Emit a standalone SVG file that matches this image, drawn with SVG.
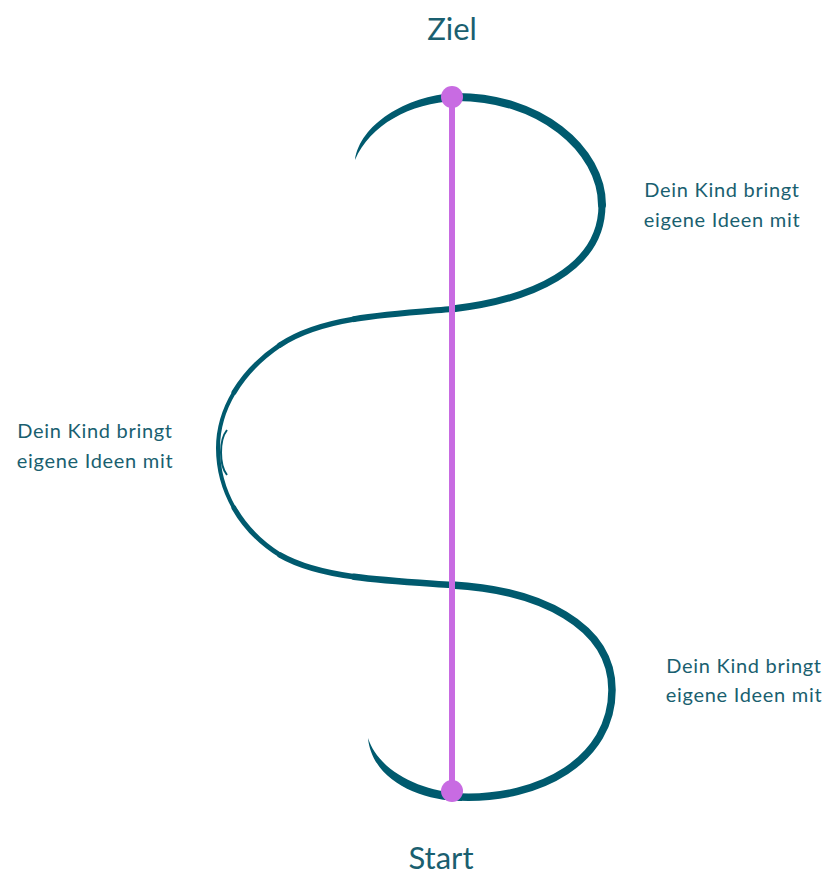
<svg xmlns="http://www.w3.org/2000/svg" width="828" height="877" viewBox="0 0 828 877">
<style>
.t{font-family:Lato,"Open Sans","Liberation Sans",sans-serif;fill:#1a5f70;text-anchor:middle}
.lbl{font-size:20px;letter-spacing:0.7px}
.big{font-size:31px}
.c{fill:none;stroke:#005a6e;stroke-linecap:round}
.p{fill:#c86be2}
</style>
<rect width="828" height="877" fill="#fff"/>
<g id="curve">
<path d="M355,160 C360,125 405,96 455,93 L455,101 C410,103 370,125 355,160 Z" fill="#005a6e"/>
<path class="c" stroke-width="8" d="M452,97 C540,95 602,150 602,205"/>
<path class="c" stroke-width="7" d="M602,205 C602,270 530,300 452,309"/>
<path class="c" stroke-width="6" d="M452,309 C416,312 383,314.25 354,319.1"/>
<path class="c" stroke-width="5.5" d="M354,319.1 C325,324 300,331.5 280,345"/>
<path class="c" stroke-width="5" d="M280,345 C260,358.5 244.5,374.75 234,392.4"/>
<path class="c" stroke-width="4" d="M234,392.4 C223.5,410 218,429 218,448"/>
<path class="c" stroke-width="4" d="M218,448 C218,469 223.5,489.5 234,507.9"/>
<path class="c" stroke-width="5" d="M234,507.9 C244.5,526.25 260,542.5 280,555"/>
<path class="c" stroke-width="5.5" d="M280,555 C300,566.5 325,572.75 354,576.75"/>
<path class="c" stroke-width="6.5" d="M354,576.75 C383,580.75 416,582.5 452,585"/>
<path class="c" stroke-width="7.5" d="M452,585 C540,590 612,625 612,690 C612,760 540,800 460,797"/>
<path d="M462,793 L462,801 C420,801 372,780 368,738 C378,770 420,792 462,793 Z" fill="#005a6e"/>
<path d="M227,430 C219,440 219,465 227,475" fill="none" stroke="#005a6e" stroke-width="2"/>
</g>
<g id="connectors">
<line x1="452" y1="97" x2="452" y2="791" stroke="#c86be2" stroke-width="6"/>
</g>
<g id="ziel">
<circle class="p" cx="452" cy="97" r="11"/>
<text class="t big" x="452" y="40">Ziel</text>
</g>
<g id="start">
<circle class="p" cx="452" cy="791" r="11"/>
<text class="t big" x="441" y="869">Start</text>
</g>
<g id="label-right-top">
<text class="t lbl" x="722" y="197">Dein Kind bringt</text>
<text class="t lbl" x="722" y="227">eigene Ideen mit</text>
</g>
<g id="label-left">
<text class="t lbl" x="95" y="438">Dein Kind bringt</text>
<text class="t lbl" x="95" y="468">eigene Ideen mit</text>
</g>
<g id="label-right-bottom">
<text class="t lbl" x="744" y="673">Dein Kind bringt</text>
<text class="t lbl" x="744" y="702">eigene Ideen mit</text>
</g>
</svg>
